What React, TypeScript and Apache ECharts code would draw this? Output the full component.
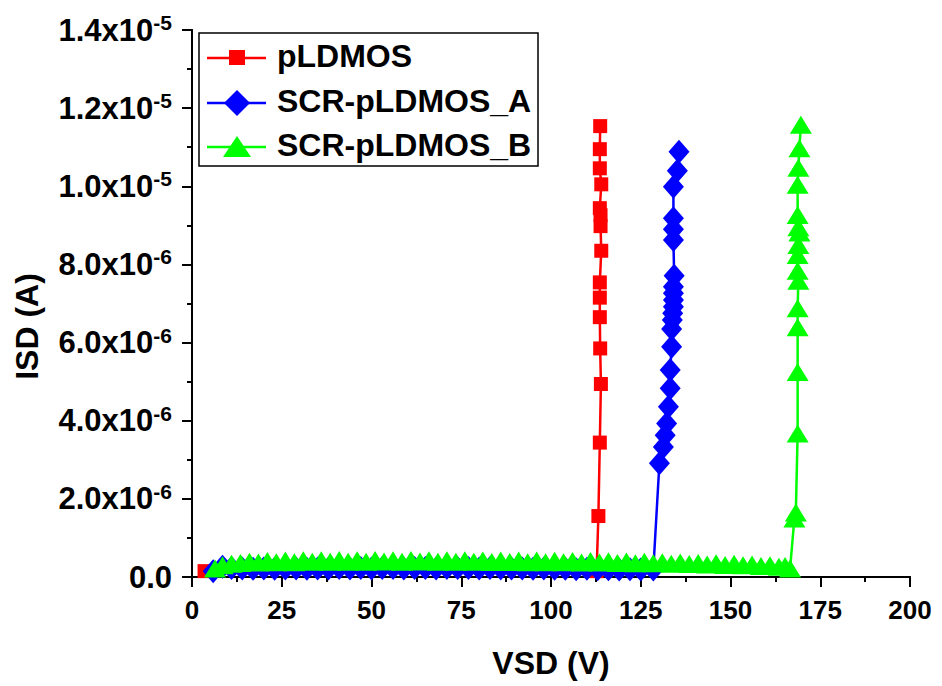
import React, { useEffect, useRef } from "react";
import * as echarts from "echarts";

// ---------- data ----------
const seriesNames = ["pLDMOS", "SCR-pLDMOS_A", "SCR-pLDMOS_B"];
const seriesColors = ["#FF0000", "#0000FF", "#00FF00"];

// pLDMOS  [VSD (V), ISD (A)]
const redData: number[][] = [
  [3.5, 1.5e-7], [112.7, 1.5e-7],
  [113.2, 1.56e-6], [113.6, 3.44e-6], [113.9, 4.94e-6], [113.7, 5.85e-6],
  [113.6, 6.65e-6], [113.6, 7.15e-6], [113.6, 7.54e-6], [114.0, 8.35e-6],
  [113.8, 8.98e-6], [113.8, 9.26e-6], [113.6, 9.44e-6], [114.0, 1.005e-5],
  [113.6, 1.046e-5], [113.6, 1.095e-5], [113.7, 1.154e-5],
];

// SCR-pLDMOS_A
const blueData: number[][] = [
  [5.9, 1.5e-7], [8.5, 2.6e-7], [11, 2.3e-7], [14, 2.2e-7], [17, 2.1e-7],
  [20, 2.2e-7], [23, 2.1e-7], [26, 2.2e-7], [29, 2.2e-7], [32, 2.1e-7],
  [35, 2.2e-7], [38, 2.2e-7], [41, 2.3e-7], [44, 2.2e-7], [47, 2.3e-7],
  [50, 2.2e-7], [53, 2.3e-7], [56, 2.3e-7], [59, 2.2e-7], [62, 2.3e-7],
  [65, 2.3e-7], [68, 2.2e-7], [71, 2.3e-7], [74, 2.3e-7], [77, 2.3e-7],
  [80, 2.2e-7], [83, 2.3e-7], [86, 2.2e-7], [89, 2.2e-7], [92, 2.2e-7],
  [95, 2.1e-7], [98, 2.2e-7], [101, 2.1e-7], [104, 2.1e-7], [107, 2.0e-7],
  [110, 2.1e-7], [113, 2.0e-7], [116, 2.0e-7], [119, 1.9e-7], [122, 2.0e-7],
  [125, 1.9e-7], [128.5, 1.9e-7],
  [130.2, 2.91e-6], [131.3, 3.33e-6], [131.8, 3.63e-6], [132.2, 3.93e-6],
  [132.7, 4.36e-6], [133.2, 4.83e-6], [133.2, 5.3e-6], [133.6, 5.89e-6],
  [133.6, 6.35e-6], [133.8, 6.58e-6], [133.9, 6.75e-6], [134.1, 6.92e-6],
  [134.1, 7.09e-6], [134.1, 7.26e-6], [134.1, 7.43e-6], [134.3, 7.71e-6],
  [134.1, 8.625e-6], [134.1, 8.9e-6], [134.1, 9.18e-6], [134.1, 9.99e-6],
  [135.2, 1.04e-5], [135.65, 1.0885e-5],
];

// SCR-pLDMOS_B
const greenData: number[][] = [
  [6.4, 2.2e-7], [8.5, 3.0e-7], [11, 3.4e-7], [13.5, 3.6e-7], [16, 3.9e-7],
  [18.5, 3.7e-7], [21, 4.1e-7], [23.5, 3.8e-7], [26, 4.2e-7], [28.5, 3.8e-7],
  [31, 4.3e-7], [33.5, 3.9e-7], [36, 4.3e-7], [38.5, 3.9e-7], [41, 4.35e-7],
  [43.5, 3.9e-7], [46, 4.3e-7], [48.5, 3.9e-7], [51, 4.35e-7], [53.5, 3.95e-7],
  [56, 4.3e-7], [58.5, 3.9e-7], [61, 4.35e-7], [63.5, 3.95e-7], [66, 4.3e-7],
  [68.5, 3.9e-7], [71, 4.3e-7], [73.5, 3.9e-7], [76, 4.3e-7], [78.5, 3.9e-7],
  [81, 4.25e-7], [83.5, 3.85e-7], [86, 4.25e-7], [88.5, 3.85e-7], [91, 4.2e-7],
  [93.5, 3.8e-7], [96, 4.2e-7], [98.5, 3.8e-7], [101, 4.15e-7], [103.5, 3.75e-7],
  [106, 4.1e-7], [108.5, 3.7e-7], [111, 4.1e-7], [113.5, 3.7e-7], [116, 4.0e-7],
  [118.5, 3.6e-7], [121, 3.95e-7], [123.5, 3.55e-7], [126, 3.9e-7], [128.5, 3.5e-7],
  [131, 3.8e-7], [133.5, 3.4e-7], [136, 3.7e-7], [138.5, 3.3e-7], [141, 3.6e-7],
  [143.5, 3.2e-7], [146, 3.5e-7], [148.5, 3.1e-7], [151, 3.4e-7], [153.5, 3.0e-7],
  [156, 3.2e-7], [158.5, 2.8e-7], [161, 3.0e-7], [163.5, 2.6e-7], [165.2, 2.8e-7],
  [166.6, 2.2e-7],
  [167.8, 1.5e-6], [168.2, 1.65e-6], [168.7, 3.67e-6], [168.7, 5.25e-6],
  [168.7, 6.39e-6], [168.7, 6.88e-6], [168.9, 7.58e-6], [168.7, 7.84e-6],
  [168.7, 8.24e-6], [168.9, 8.5e-6], [169.2, 8.82e-6], [168.9, 8.95e-6],
  [168.7, 9.265e-6], [168.7, 1.0041e-5], [168.9, 1.0476e-5], [169.2, 1.0972e-5],
  [169.6, 1.1576e-5],
];

const xTickLabels = ["0", "25", "50", "75", "100", "125", "150", "175", "200"];
const yTickMantissa = ["0.0", "2.0", "4.0", "6.0", "8.0", "1.0", "1.2", "1.4"];
const yTickExponent = ["", "-6", "-6", "-6", "-6", "-5", "-5", "-5"];
const xTitle = "VSD (V)";
const yTitle = "ISD (A)";

// ---------- chart ----------
const FONT = '"Liberation Sans", Arial, Helvetica, sans-serif';

export default function App() {
  const ref = useRef<HTMLDivElement>(null);

  useEffect(() => {
    if (!ref.current) return;
    const chart = echarts.init(ref.current, undefined, { renderer: "svg" });

    const axisLine = { show: true, lineStyle: { color: "#000", width: 2 } };

    const rowY = [58, 103, 147];
    const legendEls: any[] = [
      {
        type: "rect",
        shape: { x: 199, y: 33, width: 339, height: 133 },
        style: { fill: "#fff", stroke: "#000", lineWidth: 1.5 },
        z: 10,
      },
    ];
    seriesNames.forEach((name, i) => {
      const y = rowY[i];
      const c = seriesColors[i];
      legendEls.push({
        type: "line",
        shape: { x1: 207, y1: y, x2: 266, y2: y },
        style: { stroke: c, lineWidth: 2.5 },
        z: 11,
      });
      if (i === 0) {
        legendEls.push({
          type: "rect",
          shape: { x: 229, y: y - 8, width: 16, height: 15 },
          style: { fill: c },
          z: 12,
        });
      } else if (i === 1) {
        legendEls.push({
          type: "polygon",
          shape: { points: [[237, y - 13], [250, y], [237, y + 13], [224, y]] },
          style: { fill: c },
          z: 12,
        });
      } else {
        legendEls.push({
          type: "polygon",
          shape: { points: [[237, y - 11], [251, y + 10], [223, y + 10]] },
          style: { fill: c },
          z: 12,
        });
      }
      legendEls.push({
        type: "text",
        x: 277,
        y: y - 2,
        style: {
          text: name,
          fill: "#000",
          fontSize: 32,
          fontWeight: "bold",
          fontFamily: FONT,
          align: "left",
          verticalAlign: "middle",
        },
        z: 12,
      });
    });

    const yFormatter = (value: number) => {
      const i = Math.round(value / 2e-6);
      if (i === 0) return "{a|" + yTickMantissa[0] + "}";
      return "{a|" + yTickMantissa[i] + "x10}{b|" + yTickExponent[i] + "}";
    };

    chart.setOption({
      animation: false,
      backgroundColor: "#fff",
      grid: {
        left: 192,
        right: 32,
        top: 30,
        bottom: 109,
        containLabel: false,
        outerBoundsMode: "none",
      },
      xAxis: [
        {
          type: "value",
          min: 0,
          max: 200,
          interval: 25,
          position: "bottom",
          axisLine,
          axisTick: { show: true, inside: false, length: 10, lineStyle: { color: "#000", width: 2 } },
          minorTick: { show: true, splitNumber: 2, length: 5, lineStyle: { color: "#000", width: 2 } },
          splitLine: { show: false },
          axisLabel: {
            margin: 20,
            color: "#000",
            fontSize: 26,
            fontWeight: "bold",
            fontFamily: FONT,
            formatter: (v: number) => xTickLabels[Math.round(v / 25)],
          },
          name: xTitle,
          nameLocation: "middle",
          nameGap: 70,
          nameTextStyle: { color: "#000", fontSize: 32, fontWeight: "bold", fontFamily: FONT },
        },
        {
          type: "value",
          min: 0,
          max: 200,
          interval: 25,
          position: "top",
          axisLine,
          axisTick: { show: true, inside: true, length: 10, lineStyle: { color: "#000", width: 2 } },
          minorTick: { show: true, splitNumber: 2, length: 5, lineStyle: { color: "#000", width: 2 } },
          splitLine: { show: false },
          axisLabel: { show: false },
        },
      ],
      yAxis: [
        {
          type: "value",
          min: 0,
          max: 1.4e-5,
          interval: 2e-6,
          position: "left",
          axisLine,
          axisTick: { show: true, inside: false, length: 10, lineStyle: { color: "#000", width: 2 } },
          minorTick: { show: true, splitNumber: 2, length: 5, lineStyle: { color: "#000", width: 2 } },
          splitLine: { show: false },
          axisLabel: {
            margin: 20,
            color: "#000",
            fontSize: 31,
            fontWeight: "bold",
            fontFamily: FONT,
            formatter: yFormatter,
            rich: {
              a: { fontSize: 31, fontWeight: "bold", fontFamily: FONT, color: "#000", lineHeight: 36 },
              b: { fontSize: 21, fontWeight: "bold", fontFamily: FONT, color: "#000", verticalAlign: "top" },
            },
          },
          name: yTitle,
          nameLocation: "middle",
          nameGap: 149,
          nameRotate: 90,
          nameTextStyle: { color: "#000", fontSize: 32, fontWeight: "bold", fontFamily: FONT, padding: [0, 0, 0, -46] },
        },
        {
          type: "value",
          min: 0,
          max: 1.4e-5,
          interval: 2e-6,
          position: "right",
          axisLine,
          axisTick: { show: true, inside: true, length: 10, lineStyle: { color: "#000", width: 2 } },
          minorTick: { show: true, splitNumber: 2, length: 5, lineStyle: { color: "#000", width: 2 } },
          splitLine: { show: false },
          axisLabel: { show: false },
        },
      ],
      series: [
        {
          name: seriesNames[0],
          type: "line",
          data: redData,
          symbol: "rect",
          symbolSize: [14, 14],
          itemStyle: { color: seriesColors[0] },
          lineStyle: { color: seriesColors[0], width: 2.5 },
        },
        {
          name: seriesNames[1],
          type: "line",
          data: blueData,
          symbol: "diamond",
          symbolSize: [21, 24],
          itemStyle: { color: seriesColors[1] },
          lineStyle: { color: seriesColors[1], width: 2.5 },
        },
        {
          name: seriesNames[2],
          type: "line",
          data: greenData,
          symbol: "triangle",
          symbolSize: [22, 18],
          itemStyle: { color: seriesColors[2] },
          lineStyle: { color: seriesColors[2], width: 2.5 },
        },
      ],
      graphic: legendEls,
    });

    return () => chart.dispose();
  }, []);

  return (
    <div
      ref={ref}
      style={{ position: "fixed", left: 0, top: 0, width: 942, height: 686, background: "#fff" }}
    />
  );
}
